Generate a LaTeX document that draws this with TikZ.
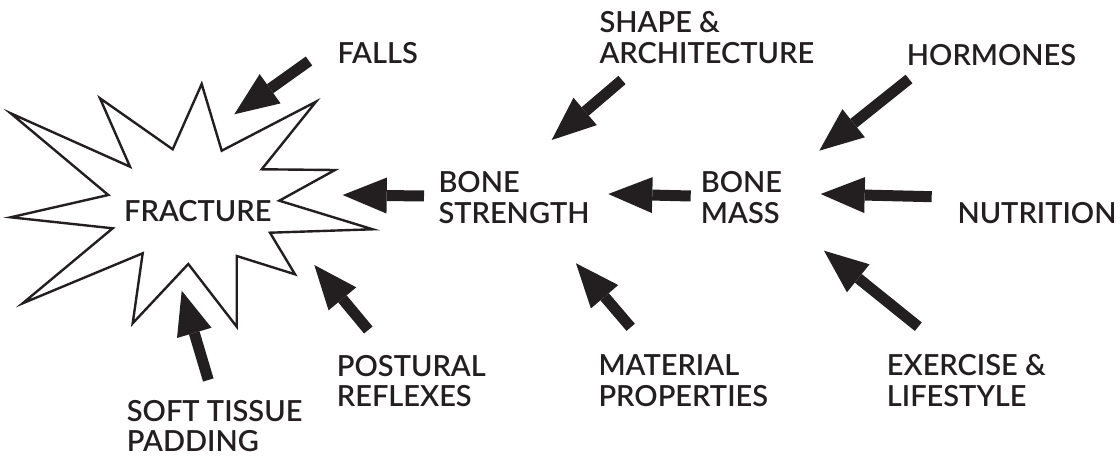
\documentclass[tikz,border=0pt]{standalone}
\usepackage{fontspec}
\IfFontExistsTF{Lato Semibold}
  {\setmainfont{Lato}[BoldFont={Lato Semibold}]}
  {\setmainfont{Lato}}
\usepackage{tikz}
\usetikzlibrary{arrows.meta}
\definecolor{Ink}{HTML}{231F20}

\begin{document}
\begin{tikzpicture}[
  x=1pt,y=-1pt,
  font=\bfseries\fontsize{29}{30.5}\selectfont,
  factor/.style={anchor=base west,inner sep=0pt,align=left,text=Ink},
  burst/.style={draw=Ink,fill=white,line width=2.4pt,line join=miter},
  push/.style={-{Triangle[length=44pt,width=36pt,line width=0pt]},draw=Ink,line width=11pt}
]
  \useasboundingbox (0,0) rectangle (1120,457);

  % the fracture starburst
  \draw[burst] (10.7,113.3) -- (130,166.7) -- (100,98.3) -- (172.7,149.3)
    -- (201.7,84) -- (221.7,150.7) -- (316,101.7) -- (261.7,169.3)
    -- (335,170) -- (279.3,200.7) -- (372.7,229.3) -- (270,232.7)
    -- (295,274.3) -- (236.7,256) -- (236.7,326.7) -- (188.3,264)
    -- (132.7,323.3) -- (142.7,253.3) -- (22.7,303.3) -- (112.7,228.3)
    -- (10.7,217.3) -- (108.3,195) -- cycle;

  % labels (base = baseline of the last line)
  \node[factor] (fracture) at (124,221.3) {FRACTURE};
  \node[factor] (falls) at (337.3,63.3) {FALLS};
  \node[factor] (shape) at (599.3,63.3) {SHAPE \&\\ARCHITECTURE};
  \node[factor] (hormones) at (906.7,66) {HORMONES};
  \node[factor] (strength) at (438.3,223.3) {BONE\\STRENGTH};
  \node[factor] (mass) at (700.7,223.3) {BONE\\MASS};
  \node[factor] (nutrition) at (957.3,223.3) {NUTRITION};
  \node[factor] (padding) at (126.7,451.7) {SOFT TISSUE\\PADDING};
  \node[factor] (reflexes) at (336.7,406.7) {POSTURAL\\REFLEXES};
  \node[factor] (material) at (598.3,406) {MATERIAL\\PROPERTIES};
  \node[factor] (lifestyle) at (886.7,406) {EXERCISE \&\\LIFESTYLE};

  % arrow ends
  \coordinate (fallsTail) at (309,61);      \coordinate (fallsTip) at (234.3,114.3);
  \coordinate (shapeTail) at (622,80);      \coordinate (shapeTip) at (551.7,140);
  \coordinate (hormonesTail) at (909,79);   \coordinate (hormonesTip) at (819.3,150.7);
  \coordinate (strengthTail) at (424,196);  \coordinate (strengthTip) at (342.7,195);
  \coordinate (massTail) at (690.7,196);    \coordinate (massTip) at (608.3,194);
  \coordinate (nutritionTail) at (931.7,196.7); \coordinate (nutritionTip) at (820.7,194);
  \coordinate (lifestyleTail) at (918.3,326.7); \coordinate (lifestyleTip) at (824,250.7);
  \coordinate (materialTail) at (630.7,327.3);  \coordinate (materialTip) at (576,263.3);
  \coordinate (reflexesTail) at (368.3,330);    \coordinate (reflexesTip) at (314.3,265);
  \coordinate (paddingTail) at (208.3,380);     \coordinate (paddingTip) at (181.7,290.7);

  \draw[push] (fallsTail) -- (fallsTip);
  \draw[push] (shapeTail) -- (shapeTip);
  \draw[push] (hormonesTail) -- (hormonesTip);
  \draw[push] (strengthTail) -- (strengthTip);
  \draw[push] (massTail) -- (massTip);
  \draw[push] (nutritionTail) -- (nutritionTip);
  \draw[push] (lifestyleTail) -- (lifestyleTip);
  \draw[push] (materialTail) -- (materialTip);
  \draw[push] (reflexesTail) -- (reflexesTip);
  \draw[push] (paddingTail) -- (paddingTip);
\end{tikzpicture}
\end{document}
